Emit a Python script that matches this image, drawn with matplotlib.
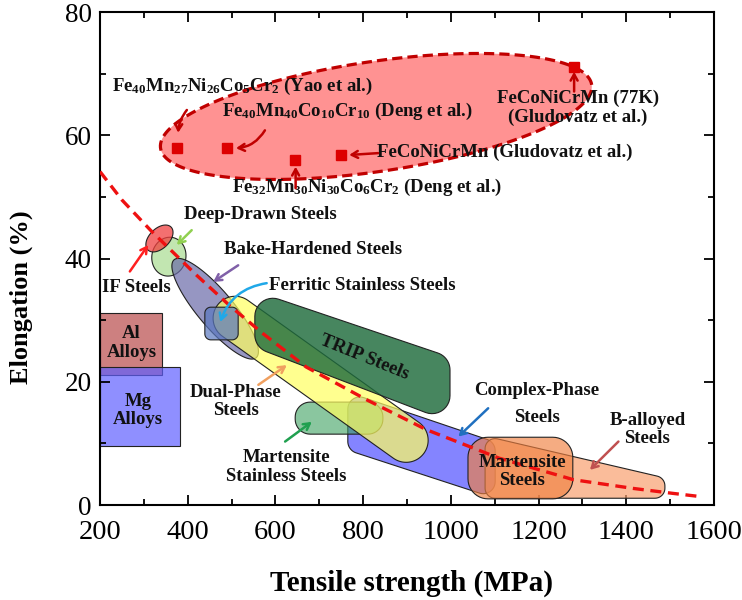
import numpy as np
import matplotlib
matplotlib.use("Agg")
import matplotlib.pyplot as plt
from matplotlib.patches import Polygon

plt.rcParams['font.family'] = ['Liberation Serif', 'DejaVu Serif']
plt.rcParams['mathtext.fontset'] = 'custom'
plt.rcParams['mathtext.rm'] = 'Liberation Serif:bold'
plt.rcParams['mathtext.it'] = 'Liberation Serif:bold'
plt.rcParams['mathtext.bf'] = 'Liberation Serif:bold'
plt.rcParams['mathtext.default'] = 'rm'

############ data ############
# high entropy alloys (tensile strength MPa, elongation %)
hea_x = [375, 490, 645, 750, 1280]
hea_y = [58.0, 58.0, 56.0, 56.8, 71.0]

# red dashed trend line
trend_x = [200, 250, 315, 345, 420, 495, 570, 670, 810, 945, 1110, 1280, 1415, 1505, 1565]
trend_y = [54.1, 49.5, 44.6, 42.5, 37.3, 32.4, 27.9, 22.4, 17.0, 12.2, 7.6, 4.1, 2.7, 1.9, 1.4]

# HEA envelope ellipse: major axis end points
hea_env_x = [338, 1321]
hea_env_y = [57.9, 68.2]

# ellipse shaped regions: major axis end points
if_x, if_y = [309, 362], [41.4, 45.1]
deep_x, deep_y = [366, 348], [43.4, 37.2]
bake_x, bake_y = [369, 556], [39.8, 23.9]

# capsule: end cap centres
dual_x, dual_y = [508, 898], [30.3, 10.5]

# corner outlines of the other regions
al_x, al_y = [200, 341, 341, 200], [31.2, 31.2, 21.1, 21.1]
mg_x, mg_y = [200, 382, 382, 200], [22.4, 22.4, 9.6, 9.6]
ferr_x, ferr_y = [439, 515, 515, 439], [32.1, 32.1, 26.8, 26.8]
trip_x, trip_y = [553, 998, 998, 553], [34.7, 24.0, 13.5, 25.6]
mstain_x, mstain_y = [645, 845, 845, 645], [16.7, 16.7, 11.5, 11.5]
cplx_x, cplx_y = [765, 1101, 1101, 765], [18.3, 10.2, 1.1, 8.9]
balloy_x, balloy_y = [1078, 1488, 1488, 1078], [11.2, 4.4, 1.1, 1.1]
mart_x, mart_y = [1039, 1278, 1278, 1039], [11.0, 11.0, 1.0, 1.0]

############ figure ############
fig = plt.figure(figsize=(7.42, 6.0), dpi=100)
ax = fig.add_axes([0.1348, 0.1583, 0.8275, 0.8217])
ax.set_xlim(200, 1600)
ax.set_ylim(0, 80)


def to_px(xs, ys):
    return ax.transData.transform(np.column_stack([xs, ys]))


def to_data(pts):
    return ax.transData.inverted().transform(np.asarray(pts))


def rounded(xs, ys, r, n=12):
    pts = to_px(xs, ys)
    out = []
    m = len(pts)
    for i in range(m):
        p, a, b = pts[i], pts[i - 1], pts[(i + 1) % m]
        if r <= 0:
            out.append(p)
            continue
        u1 = (a - p) / np.linalg.norm(a - p)
        u2 = (b - p) / np.linalg.norm(b - p)
        ang = np.arccos(np.clip(np.dot(u1, u2), -1, 1))
        d = r / np.tan(ang / 2)
        d = min(d, 0.5 * np.linalg.norm(a - p), 0.5 * np.linalg.norm(b - p))
        rr = d * np.tan(ang / 2)
        bis = (u1 + u2) / np.linalg.norm(u1 + u2)
        c = p + bis * rr / np.sin(ang / 2)
        t1, t2 = p + u1 * d, p + u2 * d
        a1 = np.arctan2(t1[1] - c[1], t1[0] - c[0])
        a2 = np.arctan2(t2[1] - c[1], t2[0] - c[0])
        da = (a2 - a1 + np.pi) % (2 * np.pi) - np.pi
        th = a1 + da * np.linspace(0, 1, n)
        out.extend(c + rr * np.column_stack([np.cos(th), np.sin(th)]))
    return to_data(out)


def capsule(xs, ys, hw):
    p1, p2 = to_px(xs, ys)
    u = (p2 - p1) / np.linalg.norm(p2 - p1)
    nv = np.array([-u[1], u[0]])
    corners = [p1 - u * hw + nv * hw, p2 + u * hw + nv * hw,
               p2 + u * hw - nv * hw, p1 - u * hw - nv * hw]
    cx, cy = to_data(corners).T
    return rounded(cx, cy, hw * 0.999, n=24)


def ellipse(xs, ys, hw):
    p1, p2 = to_px(xs, ys)
    c = (p1 + p2) / 2
    a = np.linalg.norm(p2 - p1) / 2
    u = (p2 - p1) / (2 * a)
    nv = np.array([-u[1], u[0]])
    t = np.linspace(0, 2 * np.pi, 200)
    pts = c + np.outer(a * np.cos(t), u) + np.outer(hw * np.sin(t), nv)
    return to_data(pts)


def region(verts, fc, alpha, z, **kw):
    ec = kw.pop('ec', '#222222')
    lw = kw.pop('lw', 0.8)
    ax.add_patch(Polygon(verts, closed=True, fc=matplotlib.colors.to_rgba(fc, alpha),
                         ec=ec, lw=lw, zorder=z, **kw))


region(rounded(al_x, al_y, 0), '#b94a4a', 0.7, 1)
region(rounded(mg_x, mg_y, 0), '#6060ff', 0.7, 1.1)
region(ellipse(hea_env_x, hea_env_y, 55), '#ff5050', 0.62, 1, ec='#c00000', lw=2.3,
       linestyle=(0, (3.2, 1.6)))
region(ellipse(deep_x, deep_y, 17), '#a8dc90', 0.7, 2)
region(ellipse(if_x, if_y, 10), '#f04040', 0.75, 2.1)
region(ellipse(bake_x, bake_y, 18), '#6a6aa8', 0.7, 2.2)
region(rounded(cplx_x, cplx_y, 12), '#5050ff', 0.7, 2.3)
region(rounded(balloy_x, balloy_y, 10), '#f8a070', 0.7, 2.4)
region(rounded(mart_x, mart_y, 20), '#f08040', 0.65, 2.5)
region(rounded(mstain_x, mstain_y, 15), '#3ca060', 0.6, 2.6)
region(capsule(dual_x, dual_y, 22), '#ffff60', 0.7, 2.7)
region(rounded(ferr_x, ferr_y, 6), '#5a78c0', 0.7, 2.8)
region(rounded(trip_x, trip_y, 18), '#1e6b3c', 0.82, 2.9)

# trend line and HEA points
ax.plot(trend_x, trend_y, color='#ee1111', lw=2.4, dashes=(3.3, 2), zorder=4)
ax.plot(hea_x, hea_y, 's', color='#dd0000', ms=7.5, zorder=5)

############ labels and arrows ############
tkw = dict(fontsize=13.5, fontweight='bold', color='#111111', zorder=6)


def arrow(tail, head, color, rad=0.0):
    ax.annotate('', xy=head, xytext=tail, zorder=6,
                arrowprops=dict(arrowstyle='->,head_length=0.45,head_width=0.25',
                                color=color, lw=1.8, shrinkA=0, shrinkB=0,
                                connectionstyle='arc3,rad=%s' % rad))


ax.text(227, 68.0, 'Fe$_{40}$Mn$_{27}$Ni$_{26}$Co$_{5}$Cr$_{2}$ (Yao et al.)', ha='left', va='center', **tkw)
ax.text(478, 63.8, 'Fe$_{40}$Mn$_{40}$Co$_{10}$Cr$_{10}$ (Deng et al.)', ha='left', va='center', **tkw)
ax.text(832, 57.2, 'FeCoNiCrMn (Gludovatz et al.)', ha='left', va='center', **tkw)
ax.text(500, 51.6, 'Fe$_{32}$Mn$_{30}$Ni$_{30}$Co$_{6}$Cr$_{2}$ (Deng et al.)', ha='left', va='center', **tkw)
ax.text(1290, 64.4, 'FeCoNiCrMn (77K)\n(Gludovatz et al.)', ha='center', va='center', linespacing=1.1, **tkw)

arrow((398, 64.1), (378, 60.4), '#c00000', rad=0.15)
arrow((576, 60.8), (510, 57.9), '#c00000', rad=-0.25)
arrow((834, 57.1), (768, 56.8), '#c00000')
arrow((646, 51.4), (646, 54.9), '#c00000')
arrow((1281, 67.1), (1281, 70.3), '#c00000')

ax.text(565, 47.1, 'Deep-Drawn Steels', ha='center', va='center', **tkw)
ax.text(686, 41.4, 'Bake-Hardened Steels', ha='center', va='center', **tkw)
ax.text(284, 35.3, 'IF Steels', ha='center', va='center', **tkw)
ax.text(798, 35.7, 'Ferritic Stainless Steels', ha='center', va='center', **tkw)
ax.text(802, 23.9, 'TRIP Steels', ha='center', va='center', rotation=-22, **tkw)
ax.text(510, 16.8, 'Dual-Phase\nSteels', ha='center', va='center', linespacing=1.15, **tkw)
ax.text(625, 6.2, 'Martensite\nStainless Steels', ha='center', va='center', linespacing=1.15, **tkw)
ax.text(1196, 16.4, 'Complex-Phase\n\nSteels', ha='center', va='center', linespacing=0.75, **tkw)
ax.text(1448, 12.2, 'B-alloyed\nSteels', ha='center', va='center', linespacing=1.1, **tkw)
ax.text(1163, 5.4, 'Martensite\nSteels', ha='center', va='center', linespacing=1.1, **tkw)
ax.text(272, 26.3, 'Al\nAlloys', ha='center', va='center', linespacing=1.1, **tkw)
ax.text(287, 15.3, 'Mg\nAlloys', ha='center', va='center', linespacing=1.1, **tkw)

arrow((268, 37.9), (310, 42.2), '#ff2020')
arrow((409, 44.6), (375, 42.2), '#90d050')
arrow((515, 38.9), (458, 36.2), '#8060a8')
arrow((580, 36.0), (474, 29.7), '#20a8e8', rad=0.3)
arrow((561, 19.5), (626, 22.7), '#f0a060')
arrow((622, 10.3), (683, 13.5), '#20a050')
arrow((1085, 15.7), (1017, 11.1), '#2070c0')
arrow((1382, 10.3), (1317, 5.7), '#c05050')

############ axes styling ############
ax.set_xticks(np.arange(200, 1601, 200))
ax.set_yticks(np.arange(0, 81, 20))
ax.set_xticks(np.arange(300, 1600, 200), minor=True)
ax.set_yticks(np.arange(10, 80, 20), minor=True)
ax.tick_params(which='both', direction='in', top=True, right=True, width=1.3)
ax.tick_params(which='major', length=7)
ax.tick_params(which='minor', length=4)
ax.tick_params(axis='x', pad=10.5, labelsize=20.5)
ax.tick_params(axis='y', pad=6, labelsize=19.5)
for s in ax.spines.values():
    s.set_linewidth(1.5)

ax.set_xlabel('Tensile strength (MPa)', fontsize=21, fontweight='bold')
ax.set_ylabel('Elongation (%)', fontsize=19, fontweight='bold')
ax.xaxis.set_label_coords(0.508, -0.131)
ax.yaxis.set_label_coords(-0.109, 0.422)

fig.savefig('out.png', dpi=100)
